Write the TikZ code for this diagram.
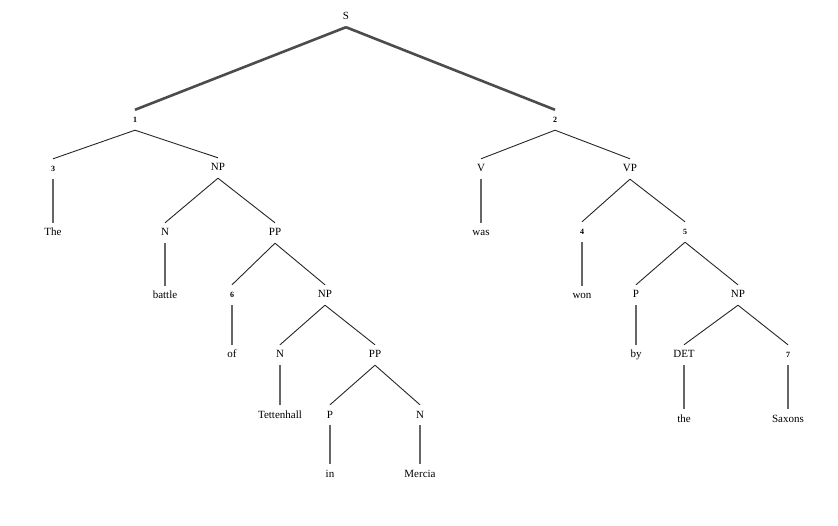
\documentclass[tikz,border=0pt]{standalone}
\usepackage{fontspec}
\setmainfont{Liberation Serif}
\usepackage{tikz}
\usetikzlibrary{positioning}

\begin{document}
\begin{tikzpicture}[x=1pt,y=-1pt,
 cat/.style={font=\fontsize{11}{13}\selectfont,text height=8pt,text depth=2pt,inner xsep=2pt,inner ysep=5pt},
 num/.style={font=\fontsize{8}{9}\selectfont\bfseries,text height=8pt,text depth=2pt,inner xsep=2pt,inner ysep=5pt},
 branch/.style={black!85,line width=0.9pt},
 trunk/.style={black!70,line width=2.6pt},
 leaf/.style={black!60,line width=2.6pt}
]
\useasboundingbox (0,0) rectangle (838,526);
% labels
\node[cat] (s) at (346,17) {S};
\node[num] (n1) at (135,120) {1};
\node[num] (n2) at (555,120) {2};
\node[num] (n3) at (53,169) {3};
\node[cat] (np1) at (218,168) {NP};
\node[cat] (the) at (53,233) {The};
\node[cat] (nA) at (165,233) {N};
\node[cat] (pp1) at (275,233) {PP};
\node[cat] (battle) at (165,296) {battle};
\node[num] (n6) at (232,295) {6};
\node[cat] (np2) at (325,295) {NP};
\node[cat] (of) at (232,355) {of};
\node[cat] (nB) at (280,355) {N};
\node[cat] (pp2) at (375,355) {PP};
\node[cat] (tett) at (280,415) {Tettenhall};
\node[cat] (pA) at (330,415) {P};
\node[cat] (nC) at (420,415) {N};
\node[cat] (win) at (330,474) {in};
\node[cat] (mercia) at (420,474) {Mercia};
\node[cat] (v) at (481,169) {V};
\node[cat] (vp) at (630,169) {VP};
\node[cat] (was) at (481,233) {was};
\node[num] (n4) at (582,232) {4};
\node[num] (n5) at (685,232) {5};
\node[cat] (won) at (582,296) {won};
\node[cat] (pB) at (636,295) {P};
\node[cat] (np3) at (738,295) {NP};
\node[cat] (by) at (636,355) {by};
\node[cat] (det) at (684,355) {DET};
\node[num] (n7) at (788,355) {7};
\node[cat] (thed) at (684,419) {the};
\node[cat] (saxons) at (788,419) {Saxons};
% top
\draw[trunk] (s.south) -- (n1.north);
\draw[trunk] (s.south) -- (n2.north);
% left half
\draw[branch] (n1.south) -- (n3.north);
\draw[branch] (n1.south) -- (np1.north);
\draw[branch] (np1.south) -- (nA.north);
\draw[branch] (np1.south) -- (pp1.north);
\draw[branch] (pp1.south) -- (n6.north);
\draw[branch] (pp1.south) -- (np2.north);
\draw[branch] (np2.south) -- (nB.north);
\draw[branch] (np2.south) -- (pp2.north);
\draw[branch] (pp2.south) -- (pA.north);
\draw[branch] (pp2.south) -- (nC.north);
\draw[leaf] (n3.south) -- (the.north);
\draw[leaf] (nA.south) -- (battle.north);
\draw[leaf] (n6.south) -- (of.north);
\draw[leaf] (nB.south) -- (tett.north);
\draw[leaf] (pA.south) -- (win.north);
\draw[leaf] (nC.south) -- (mercia.north);
% right half
\draw[branch] (n2.south) -- (v.north);
\draw[branch] (n2.south) -- (vp.north);
\draw[branch] (vp.south) -- (n4.north);
\draw[branch] (vp.south) -- (n5.north);
\draw[branch] (n5.south) -- (pB.north);
\draw[branch] (n5.south) -- (np3.north);
\draw[branch] (np3.south) -- (det.north);
\draw[branch] (np3.south) -- (n7.north);
\draw[leaf] (v.south) -- (was.north);
\draw[leaf] (n4.south) -- (won.north);
\draw[leaf] (pB.south) -- (by.north);
\draw[leaf] (det.south) -- (thed.north);
\draw[leaf] (n7.south) -- (saxons.north);
\end{tikzpicture}
\end{document}
